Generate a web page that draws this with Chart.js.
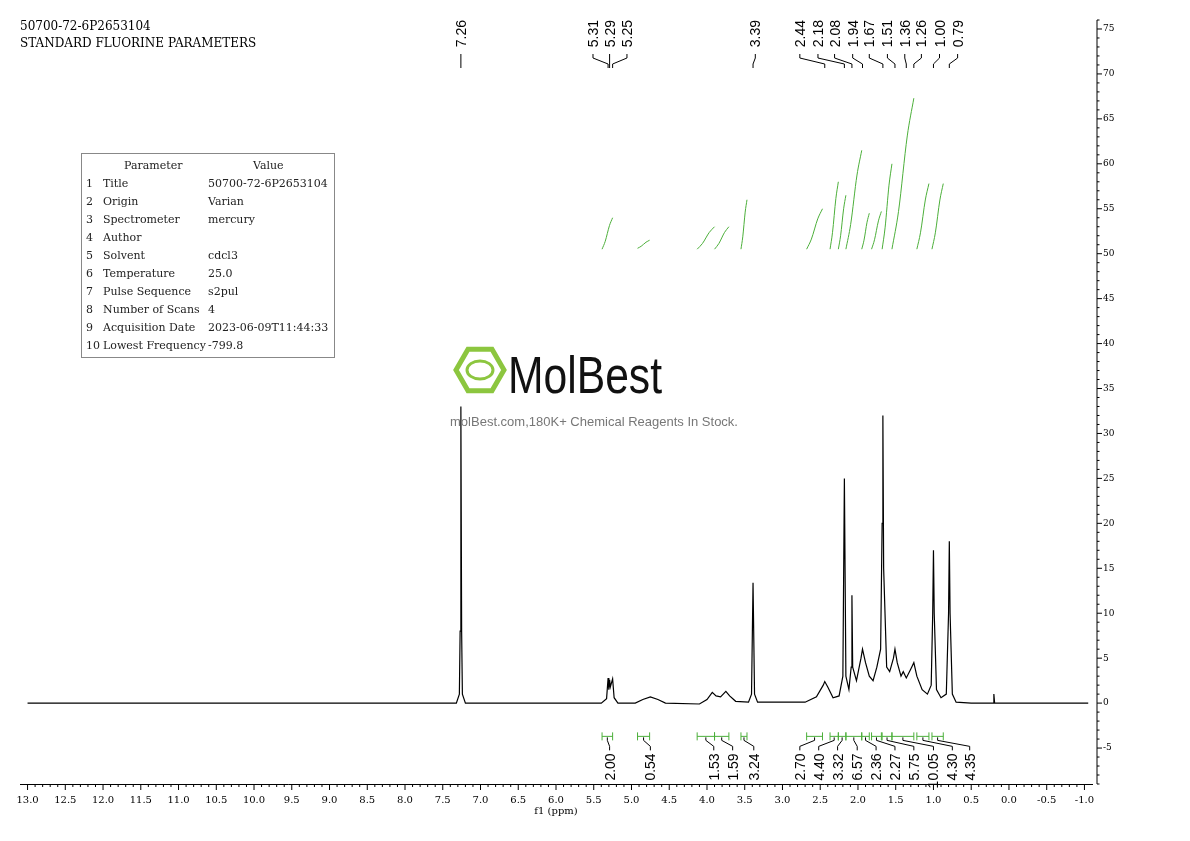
<!DOCTYPE html>
<html><head><meta charset="utf-8">
<script src="https://cdn.jsdelivr.net/npm/chart.js@4.4.0/dist/chart.umd.min.js"></script>
<style>html,body{margin:0;padding:0;background:#fff}#c{display:block}</style>
</head><body><canvas id="c" width="1190" height="841"></canvas>
<script>
const specPpm=[13.0,7.32,7.28,7.27,7.26,7.25,7.24,7.20,5.40,5.33,5.31,5.30,5.29,5.28,5.25,5.23,5.18,4.95,4.85,4.75,4.65,4.55,4.10,4.00,3.93,3.88,3.82,3.75,3.70,3.62,3.45,3.41,3.39,3.37,3.33,2.70,2.55,2.46,2.44,2.40,2.33,2.25,2.20,2.18,2.16,2.12,2.09,2.08,2.07,2.02,1.96,1.94,1.90,1.85,1.80,1.75,1.70,1.68,1.67,1.66,1.62,1.58,1.53,1.51,1.48,1.43,1.40,1.36,1.30,1.26,1.22,1.15,1.08,1.03,1.01,1.00,0.99,0.96,0.90,0.83,0.80,0.79,0.78,0.75,0.70,0.50,0.21,0.20,0.19,-1.05];
const specInt=[0,0,1,8,33,8,1,0,0,0.5,2.8,1.5,2.6,1.8,2.7,0.6,0,0,0.4,0.7,0.4,0,-0.1,0.4,1.2,0.8,0.7,1.3,0.8,0.2,0.1,1,13.4,1,0.1,0.1,0.7,2,2.4,1.8,0.6,0.8,3,25,3,1.5,4,12,4,2.5,5,6,4.5,3,2.5,4,6,20,32,15,4,3.5,5,6,4.5,3,3.5,2.8,3.8,4.5,3,1.5,1,2,10,17,10,1.5,0.6,1,10,18,10,1,0.1,0,0,1,0,0];
const intStart=[5.39,4.92,4.13,3.90,3.55,2.68,2.37,2.26,2.16,1.95,1.82,1.68,1.55,1.22,1.02];
const intEnd=[5.25,4.76,3.90,3.71,3.47,2.47,2.26,2.16,1.95,1.85,1.69,1.55,1.26,1.06,0.87];
const intBottom=[50.5,50.6,50.5,50.5,50.5,50.5,50.5,50.5,50.5,50.5,50.5,50.5,50.5,50.5,50.5];
const intTop=[54,51.5,53,53,56,55,58,56.5,61.5,54.5,54.7,60,67.3,57.8,57.8];
const intValues=["2.00","0.54","1.53","1.59","3.24","2.70","4.40","3.32","6.57","2.36","2.27","5.75","10.05","4.30","4.35"];
const intLabelPpm=[5.29,4.75,3.91,3.66,3.38,2.77,2.52,2.27,2.01,1.76,1.51,1.26,1.00,0.75,0.52];
const peakLabels=["7.26","5.31","5.29","5.25","3.39","2.44","2.18","2.08","1.94","1.67","1.51","1.36","1.26","1.00","0.79"];
const peakLabelPpm=[7.26,5.51,5.29,5.06,3.36,2.77,2.53,2.31,2.07,1.85,1.61,1.38,1.16,0.92,0.68];
const xTicks=[13,12.5,12,11.5,11,10.5,10,9.5,9,8.5,8,7.5,7,6.5,6,5.5,5,4.5,4,3.5,3,2.5,2,1.5,1,0.5,0,-0.5,-1];
const paramNames=["Title","Origin","Spectrometer","Author","Solvent","Temperature","Pulse Sequence","Number of Scans","Acquisition Date","Lowest Frequency"];
const paramValues=["50700-72-6P2653104","Varian","mercury","","cdcl3","25.0","s2pul","4","2023-06-09T11:44:33","-799.8"];

const datasets=[{data:specPpm.map((p,i)=>({x:p,y:specInt[i]})),borderColor:'#000',borderWidth:1.2,pointRadius:0,tension:0}];
intStart.forEach((s,i)=>{
  const e=intEnd[i],b=intBottom[i],t=intTop[i];
  datasets.push({data:[{x:s,y:b},{x:s-(s-e)*0.3,y:b+(t-b)*0.25},{x:s-(s-e)*0.7,y:b+(t-b)*0.75},{x:e,y:t}],
    borderColor:'#4caf3a',borderWidth:1,pointRadius:0,cubicInterpolationMode:'monotone'});
});

const deco={id:'deco',afterDraw(ch){
  const c=ch.ctx,xs=ch.scales.x,ys=ch.scales.y,a=ch.chartArea;
  c.save();
  c.strokeStyle='#000';c.lineWidth=1;
  for(let v=-10;v<=130;v++){const p=xs.getPixelForValue(v/10);const L=(v%5===0)?6:3;c.beginPath();c.moveTo(p,a.bottom);c.lineTo(p,a.bottom+L);c.stroke();}
  const ax=a.right+5;
  for(let v=-9;v<=76;v++){const p=ys.getPixelForValue(v);const L=(v%5===0)?5:2.5;c.beginPath();c.moveTo(ax,p);c.lineTo(ax+L,p);c.stroke();}
  c.beginPath();c.moveTo(ax,a.top);c.lineTo(ax,a.bottom);c.stroke();
  c.fillStyle='#000';c.font='9px "DejaVu Serif", serif';c.textAlign='left';c.textBaseline='middle';
  for(let v=-5;v<=75;v+=5){c.fillText(String(v),ax+6,ys.getPixelForValue(v));}
  c.textBaseline='alphabetic';
  c.font='12px "DejaVu Serif", serif';
  c.fillText('50700-72-6P2653104',20,30);c.fillText('STANDARD FLUORINE PARAMETERS',20,47);
  c.font='14px "Liberation Sans", Arial, sans-serif';
  peakLabels.forEach((t,i)=>{
    const lx=xs.getPixelForValue(peakLabelPpm[i]),px=xs.getPixelForValue(parseFloat(t));
    c.save();c.translate(lx+5,20);c.rotate(-Math.PI/2);c.textAlign='right';c.fillText(t,0,0);c.restore();
    c.beginPath();c.moveTo(lx,54);c.lineTo(lx,58);c.lineTo(px,64);c.lineTo(px,68);c.stroke();
  });
  const by=ys.getPixelForValue(-3.7);
  intStart.forEach((s,i)=>{
    const x1=xs.getPixelForValue(s),x2=xs.getPixelForValue(intEnd[i]),m=(x1+x2)/2,lx=xs.getPixelForValue(intLabelPpm[i]);
    c.strokeStyle='#4caf3a';c.beginPath();c.moveTo(x1,by-4);c.lineTo(x1,by+4);c.moveTo(x2,by-4);c.lineTo(x2,by+4);c.moveTo(x1,by);c.lineTo(x2,by);c.stroke();
    c.strokeStyle='#000';c.beginPath();c.moveTo(m,by+1);c.lineTo(m,by+4);c.lineTo(lx,by+10);c.lineTo(lx,by+14);c.stroke();
    c.fillStyle='#000';c.save();c.translate(lx+5,by+17);c.rotate(-Math.PI/2);c.textAlign='right';c.fillText(intValues[i],0,0);c.restore();
  });
  c.strokeStyle='#888';c.strokeRect(81.5,153.5,253,204);
  c.font='11px "DejaVu Serif", serif';c.fillStyle='#222';
  c.fillText('Parameter',124,169);c.fillText('Value',253,169);
  paramNames.forEach((n,i)=>{const y=187+i*18;c.fillText(String(i+1),86,y);c.fillText(n,103,y);c.fillText(paramValues[i],208,y);});
  c.strokeStyle='#8cc63f';c.lineWidth=5;
  const hx=480,hy=370,r=24;c.beginPath();
  for(let k=0;k<6;k++){const ang=Math.PI/3*k;const X=hx+r*Math.cos(ang),Y=hy+r*Math.sin(ang);k?c.lineTo(X,Y):c.moveTo(X,Y);}c.closePath();c.stroke();
  c.lineWidth=3;c.beginPath();c.ellipse(hx,hy,13,9,0,0,Math.PI*2);c.stroke();
  c.fillStyle='#111';c.font='52px "Liberation Sans Narrow", "Liberation Sans", sans-serif';c.textAlign='left';
  c.save();c.translate(508,393);c.scale(0.82,1);c.fillText('MolBest',0,0);c.restore();
  c.fillStyle='#777';c.font='13px "Liberation Sans", Arial, sans-serif';c.textAlign='center';
  c.fillText('molBest.com,180K+ Chemical Reagents In Stock.',594,426);
  c.fillStyle='#000';c.font='10px "DejaVu Serif", serif';c.fillText('f1 (ppm)',556,814);
  c.restore();
}};

new Chart(document.getElementById('c'),{type:'line',data:{datasets},
 options:{responsive:false,animation:false,events:[],
  layout:{padding:{left:20,top:20,right:98,bottom:33}},
  plugins:{legend:{display:false},tooltip:{enabled:false}},
  scales:{
   x:{type:'linear',reverse:true,min:-1.1,max:13.1,afterBuildTicks:s=>{s.ticks=xTicks.map(v=>({value:v}));},
      grid:{display:false,drawOnChartArea:false},border:{display:true,color:'#000'},
      ticks:{maxRotation:0,autoSkip:false,color:'#000',font:{family:'"DejaVu Serif", serif',size:10},padding:2,callback:v=>v.toFixed(1)}},
   y:{display:false,min:-9,max:76}
  }},
 plugins:[deco]});
</script></body></html>
